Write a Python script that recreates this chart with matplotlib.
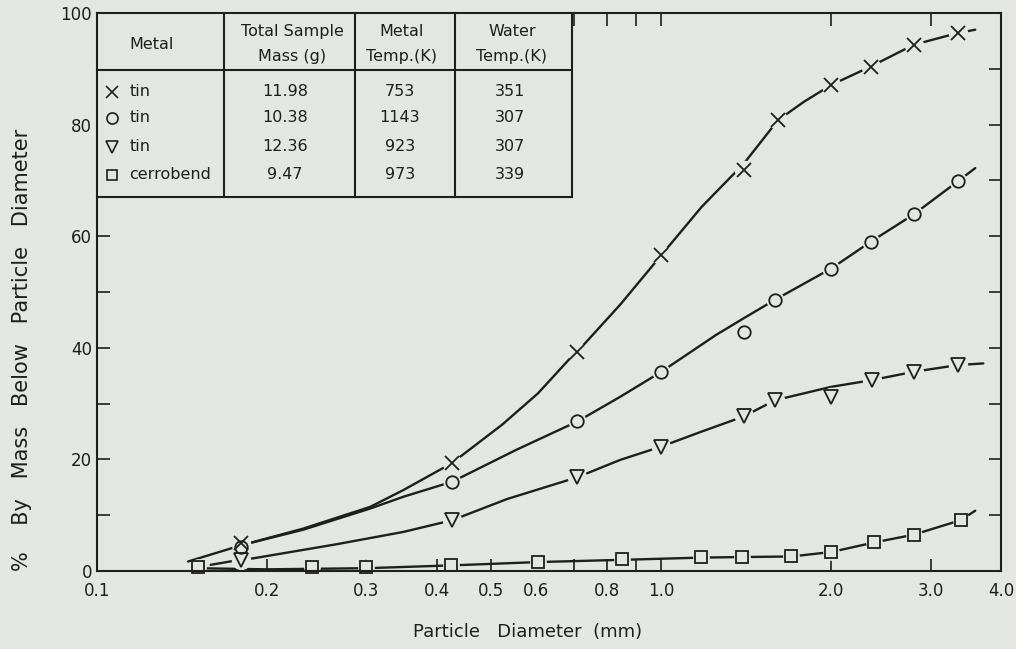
import matplotlib
matplotlib.use('Agg')
import matplotlib.pyplot as plt
from matplotlib.patches import Rectangle
from matplotlib.ticker import FixedLocator, FixedFormatter, NullFormatter

BG = '#e3e6e1'
INK = '#1e1e1e'

# measured points: particle diameter (mm) / % by mass below that diameter
x_tin753 = [0.18, 0.425, 0.71, 1.0, 1.4, 1.61, 2.0, 2.35, 2.8, 3.35]
y_tin753 = [5.0, 19.3, 39.3, 56.6, 71.9, 80.8, 87.1, 90.4, 94.3, 96.4]

x_tin1143 = [0.18, 0.426, 0.71, 1.0, 1.4, 1.59, 2.0, 2.35, 2.8, 3.35]
y_tin1143 = [4.3, 16.0, 26.8, 35.7, 42.9, 48.6, 54.2, 59.0, 63.9, 69.8]

x_tin923 = [0.18, 0.426, 0.71, 1.0, 1.4, 1.59, 2.0, 2.36, 2.8, 3.35]
y_tin923 = [2.0, 9.1, 16.8, 22.3, 27.7, 30.6, 31.2, 34.2, 35.7, 36.9]

x_cerro = [0.151, 0.24, 0.3, 0.424, 0.605, 0.853, 1.178, 1.39, 1.70, 2.0, 2.38, 2.8, 3.39]
y_cerro = [0.7, 0.7, 0.7, 1.1, 1.6, 2.1, 2.5, 2.5, 2.6, 3.4, 5.2, 6.5, 9.1]

# hand drawn fitted curves
cx_tin753 = [0.145, 0.18, 0.232, 0.305, 0.349, 0.425, 0.522, 0.604, 0.689, 0.71, 0.845, 1.0,
             1.18, 1.4, 1.61, 1.79, 2.0, 2.35, 2.8, 3.35, 3.6]
cy_tin753 = [1.7, 4.6, 7.6, 11.5, 14.5, 19.3, 26.2, 31.8, 38.1, 39.3, 47.7, 56.6,
             65.3, 73.0, 80.8, 84.1, 87.1, 90.4, 94.3, 96.4, 97.0]

cx_tin1143 = [0.18, 0.232, 0.305, 0.349, 0.426, 0.553, 0.71, 0.845, 1.0, 1.25, 1.4, 1.59,
              2.0, 2.35, 2.8, 3.35, 3.6]
cy_tin1143 = [4.6, 7.4, 11.2, 13.3, 16.0, 21.7, 26.8, 31.2, 35.7, 42.3, 45.3, 48.6,
              54.2, 59.0, 63.9, 69.8, 72.2]

cx_tin923 = [0.159, 0.172, 0.19, 0.266, 0.349, 0.426, 0.533, 0.71, 0.845, 1.0, 1.18, 1.4,
             1.59, 2.0, 2.36, 2.8, 3.35, 3.72]
cy_tin923 = [1.1, 1.7, 2.3, 4.8, 7.0, 9.1, 12.9, 16.8, 19.9, 22.3, 25.0, 27.7,
             30.6, 33.0, 34.2, 35.7, 36.9, 37.2]

cx_cerro = [0.15, 0.2, 0.3, 0.424, 0.605, 0.853, 1.178, 1.39, 1.70, 2.0, 2.38, 2.8, 3.39, 3.6]
cy_cerro = [0.5, 0.3, 0.5, 1.0, 1.6, 2.0, 2.4, 2.5, 2.6, 3.4, 5.1, 6.5, 9.1, 10.8]

xtick_vals = [0.1, 0.2, 0.3, 0.4, 0.5, 0.6, 0.8, 1.0, 2.0, 3.0, 4.0]
xtick_labels = ['0.1', '0.2', '0.3', '0.4', '0.5', '0.6', '0.8', '1.0', '2.0', '3.0', '4.0']
xtick_minor = [0.7, 0.9]

# table contents
tbl_header = [['Metal'], ['Total Sample', 'Mass (g)'], ['Metal', 'Temp.(K)'], ['Water', 'Temp.(K)']]
tbl_metal = ['tin', 'tin', 'tin', 'cerrobend']
tbl_mass = ['11.98', '10.38', '12.36', '9.47']
tbl_metal_temp = ['753', '1143', '923', '973']
tbl_water_temp = ['351', '307', '307', '339']

series = [
    (x_tin753, y_tin753, cx_tin753, cy_tin753, 'x', 10),
    (x_tin1143, y_tin1143, cx_tin1143, cy_tin1143, 'o', 9),
    (x_tin923, y_tin923, cx_tin923, cy_tin923, 'v', 10),
    (x_cerro, y_cerro, cx_cerro, cy_cerro, 's', 8),
]

fig = plt.figure(figsize=(10.16, 6.49), dpi=100, facecolor=BG)
ax = fig.add_axes([0.0955, 0.1202, 0.8898, 0.8598], facecolor=BG)

for xs, ys, cxs, cys, mk, ms in series:
    ax.plot(cxs, cys, color=INK, lw=1.7, zorder=2, solid_capstyle='round', solid_joinstyle='round')
    # little gap round each point like the drawing
    ax.plot(xs, ys, 'o', ms=ms + 3, color=BG, zorder=3)
    ax.plot(xs, ys, mk, ms=ms, mfc='none', mec=INK, mew=1.3, zorder=4, clip_on=False)

ax.set_xscale('log')
ax.set_xlim(0.1, 4.0)
ax.set_ylim(0, 100)
ax.xaxis.set_major_locator(FixedLocator(xtick_vals))
ax.xaxis.set_major_formatter(FixedFormatter(xtick_labels))
ax.xaxis.set_minor_locator(FixedLocator(xtick_minor))
ax.xaxis.set_minor_formatter(NullFormatter())
ax.yaxis.set_major_locator(FixedLocator([0, 20, 40, 60, 80, 100]))
ax.yaxis.set_minor_locator(FixedLocator([10, 30, 50, 70, 90]))

ax.tick_params(which='both', direction='in', top=True, right=True, length=9, width=1.2,
               color=INK, labelcolor=INK, labelsize=12)
ax.tick_params(axis='x', pad=8)
for sp in ax.spines.values():
    sp.set_linewidth(1.5)
    sp.set_color(INK)
    sp.set_zorder(6)

fig.text(0.519, 1 - 632 / 649, 'Particle   Diameter  (mm)', ha='center', va='center',
         fontsize=13, color=INK)
fig.text(22 / 1016, 1 - 350 / 649, '%    By   Mass   Below   Particle   Diameter', rotation=90,
         ha='center', va='center', fontsize=15, color=INK)

# data table in the top left corner
tr = ax.transAxes
tx_right, tx_bot, tx_head = 0.5254, 0.670, 0.898
col_lines = [0.1405, 0.2854, 0.396]
ax.add_patch(Rectangle((0, tx_bot), tx_right, 1 - tx_bot, transform=tr, facecolor=BG,
                       edgecolor='none', zorder=4.5, clip_on=False))
kw = dict(color=INK, lw=1.5, transform=tr, clip_on=False, zorder=5)
ax.plot([0, tx_right], [tx_bot, tx_bot], **kw)
ax.plot([0, tx_right], [tx_head, tx_head], **kw)
ax.plot([tx_right, tx_right], [tx_bot, 1], **kw)
for cl in col_lines:
    ax.plot([cl, cl], [tx_bot, 1], **kw)

tkw = dict(transform=tr, va='center', fontsize=11.5, color=INK, zorder=6)
head_x = [0.0605, 0.216, 0.337, 0.459]
for hx, lines in zip(head_x, tbl_header):
    if len(lines) == 1:
        ax.text(hx, 0.9427, lines[0], ha='center', **tkw)
    else:
        ax.text(hx, 0.9665, lines[0], ha='center', **tkw)
        ax.text(hx, 0.9217, lines[1], ha='center', **tkw)

row_y = [0.859, 0.812, 0.760, 0.710]
for i, ry in enumerate(row_y):
    mk, ms = series[i][4], series[i][5]
    ax.plot([0.0163], [ry], mk, ms=ms - 1, mfc='none', mec=INK, mew=1.2, transform=tr,
            clip_on=False, zorder=6)
    ax.text(0.036, ry, tbl_metal[i], ha='left', **tkw)
    ax.text(0.208, ry, tbl_mass[i], ha='center', **tkw)
    ax.text(0.335, ry, tbl_metal_temp[i], ha='center', **tkw)
    ax.text(0.457, ry, tbl_water_temp[i], ha='center', **tkw)

fig.savefig('out.png', dpi=100, facecolor=BG)
